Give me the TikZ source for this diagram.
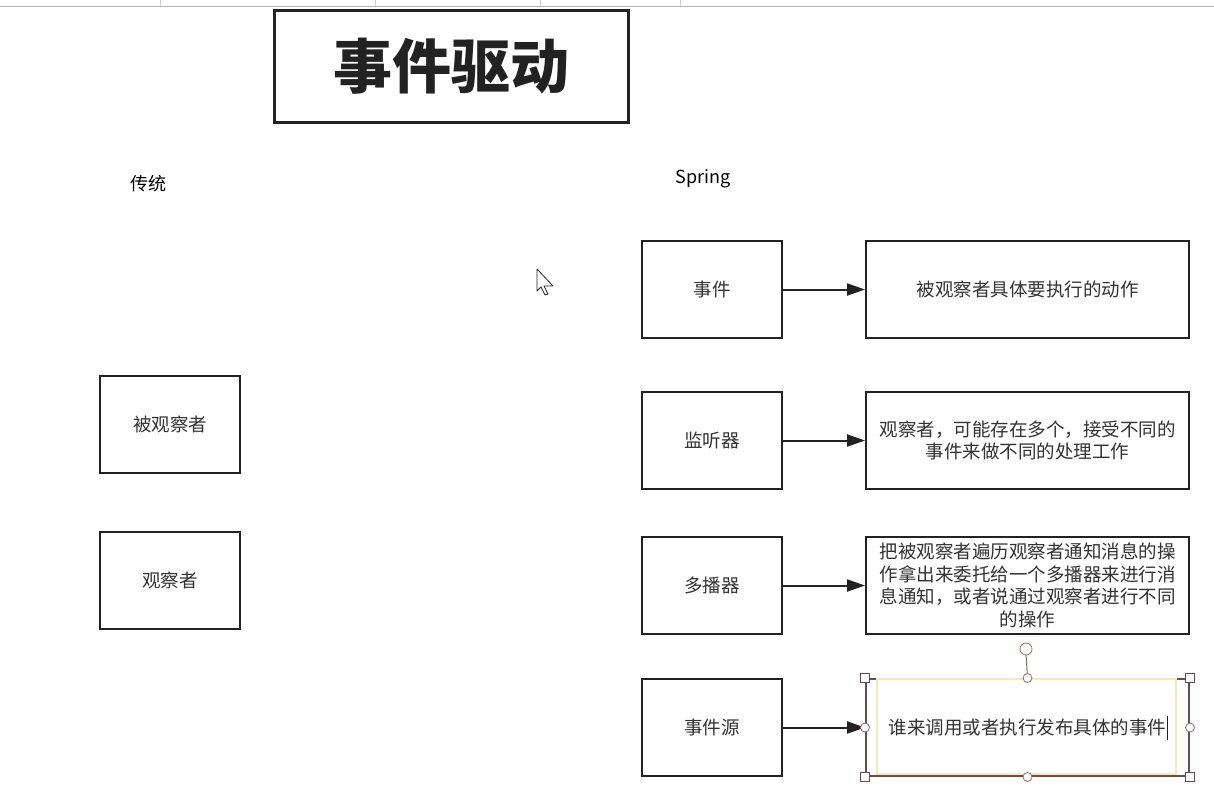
\documentclass[tikz,border=0pt]{standalone}
\usepackage{fontspec}
\setmainfont{Noto Sans CJK SC}
\usetikzlibrary{arrows.meta}
\definecolor{ink}{HTML}{222222}
\definecolor{txt}{HTML}{333333}
\definecolor{selbrown}{HTML}{6E4A4A}
\definecolor{handle}{HTML}{9A6A6A}
\definecolor{glow}{HTML}{FCE7B0}
\tikzset{
  box/.style={draw=ink, line width=2pt, fill=white, minimum width=140pt, minimum height=97pt,
    inner sep=0pt, font=\fontsize{18.5}{22.5}\selectfont, text=txt, anchor=north west},
  widebox/.style={box, minimum width=323pt, align=center},
  flow/.style={draw=ink, line width=2pt, -{Triangle[length=18pt,width=12pt]}},
  label/.style={font=\fontsize{18}{22}\selectfont, text=black},
  sqhandle/.style={draw=selbrown, fill=white, line width=0.8pt, minimum size=9pt, inner sep=0pt},
  rdhandle/.style={draw=handle, fill=white, line width=0.8pt, circle, minimum size=9pt, inner sep=0pt},
}
\begin{document}
\begin{tikzpicture}[x=1pt, y={(0,-1pt)}]
\useasboundingbox (0,0) rectangle (1214,806);
\fill[white] (0,0) rectangle (1214,806);

% top ruler strip
\draw[gray!60, line width=1pt] (0,6) -- (1214,6);
\foreach \tx in {160,375,540,680} \draw[gray!35, line width=0.6pt] (\tx,0) -- (\tx,6);

% title
\node[draw=ink, line width=3pt, minimum width=354pt, minimum height=112pt, anchor=north west,
  font=\fontsize{59}{62}\selectfont\bfseries, text=ink] (title) at (273,9) {事件驱动};

% column headings
\node[label] (trad) at (148,184) {传统};
\node[label] (spring) at (703,179) {Spring};

% classic observer pattern
\node[box] (subject) at (99,375) {被观察者};
\node[box] (observer) at (99,531) {观察者};

% Spring concepts
\node[box] (event) at (641,240) {事件};
\node[box] (listener) at (641,391) {监听器};
\node[box] (multicaster) at (641,536) {多播器};
\node[box] (source) at (641,678) {事件源};

\node[widebox] (eventdesc) at (865,240) {被观察者具体要执行的动作};
\node[widebox] (listenerdesc) at (865,391) {观察者，可能存在多个，接受不同的\\事件来做不同的处理工作};
\node[widebox, font=\fontsize{18.5}{22.7}\selectfont] (multidesc) at (865,536)
  {把被观察者遍历观察者通知消息的操\\作拿出来委托给一个多播器来进行消\\息通知，或者说通过观察者进行不同\\的操作};
\node[widebox, draw=selbrown] (sourcedesc) at (865,678) {谁来调用或者执行发布具体的事件};

\draw[flow] (event.east) -- (eventdesc.west);
\draw[flow] (listener.east) -- (listenerdesc.west);
\draw[flow] (multicaster.east) -- (multidesc.west);
\draw[flow] (source.east) -- (sourcedesc.west);

% selection frame on the last description
\draw[glow, line width=1.6pt] (877,679) rectangle (1176,774);
\draw[handle, line width=1pt] (sourcedesc.north) -- (1026,654);
\node[rdhandle, minimum size=12pt] (rot) at (1026,649) {};
\foreach \a in {north west, north east, south west, south east}
  \node[sqhandle] at (sourcedesc.\a) {};
\foreach \a in {north, south, east, west}
  \node[rdhandle] at (sourcedesc.\a) {};
% text caret
\draw[ink, line width=0.8pt] (1167,716) -- (1167,740);

% mouse pointer
\filldraw[fill=white, draw=ink, line width=0.8pt, line join=round]
  (537,269) -- (537,291) -- (541,287) -- (545,295) -- (548,294) -- (544,286) -- (553,286) -- cycle;
\end{tikzpicture}
\end{document}
